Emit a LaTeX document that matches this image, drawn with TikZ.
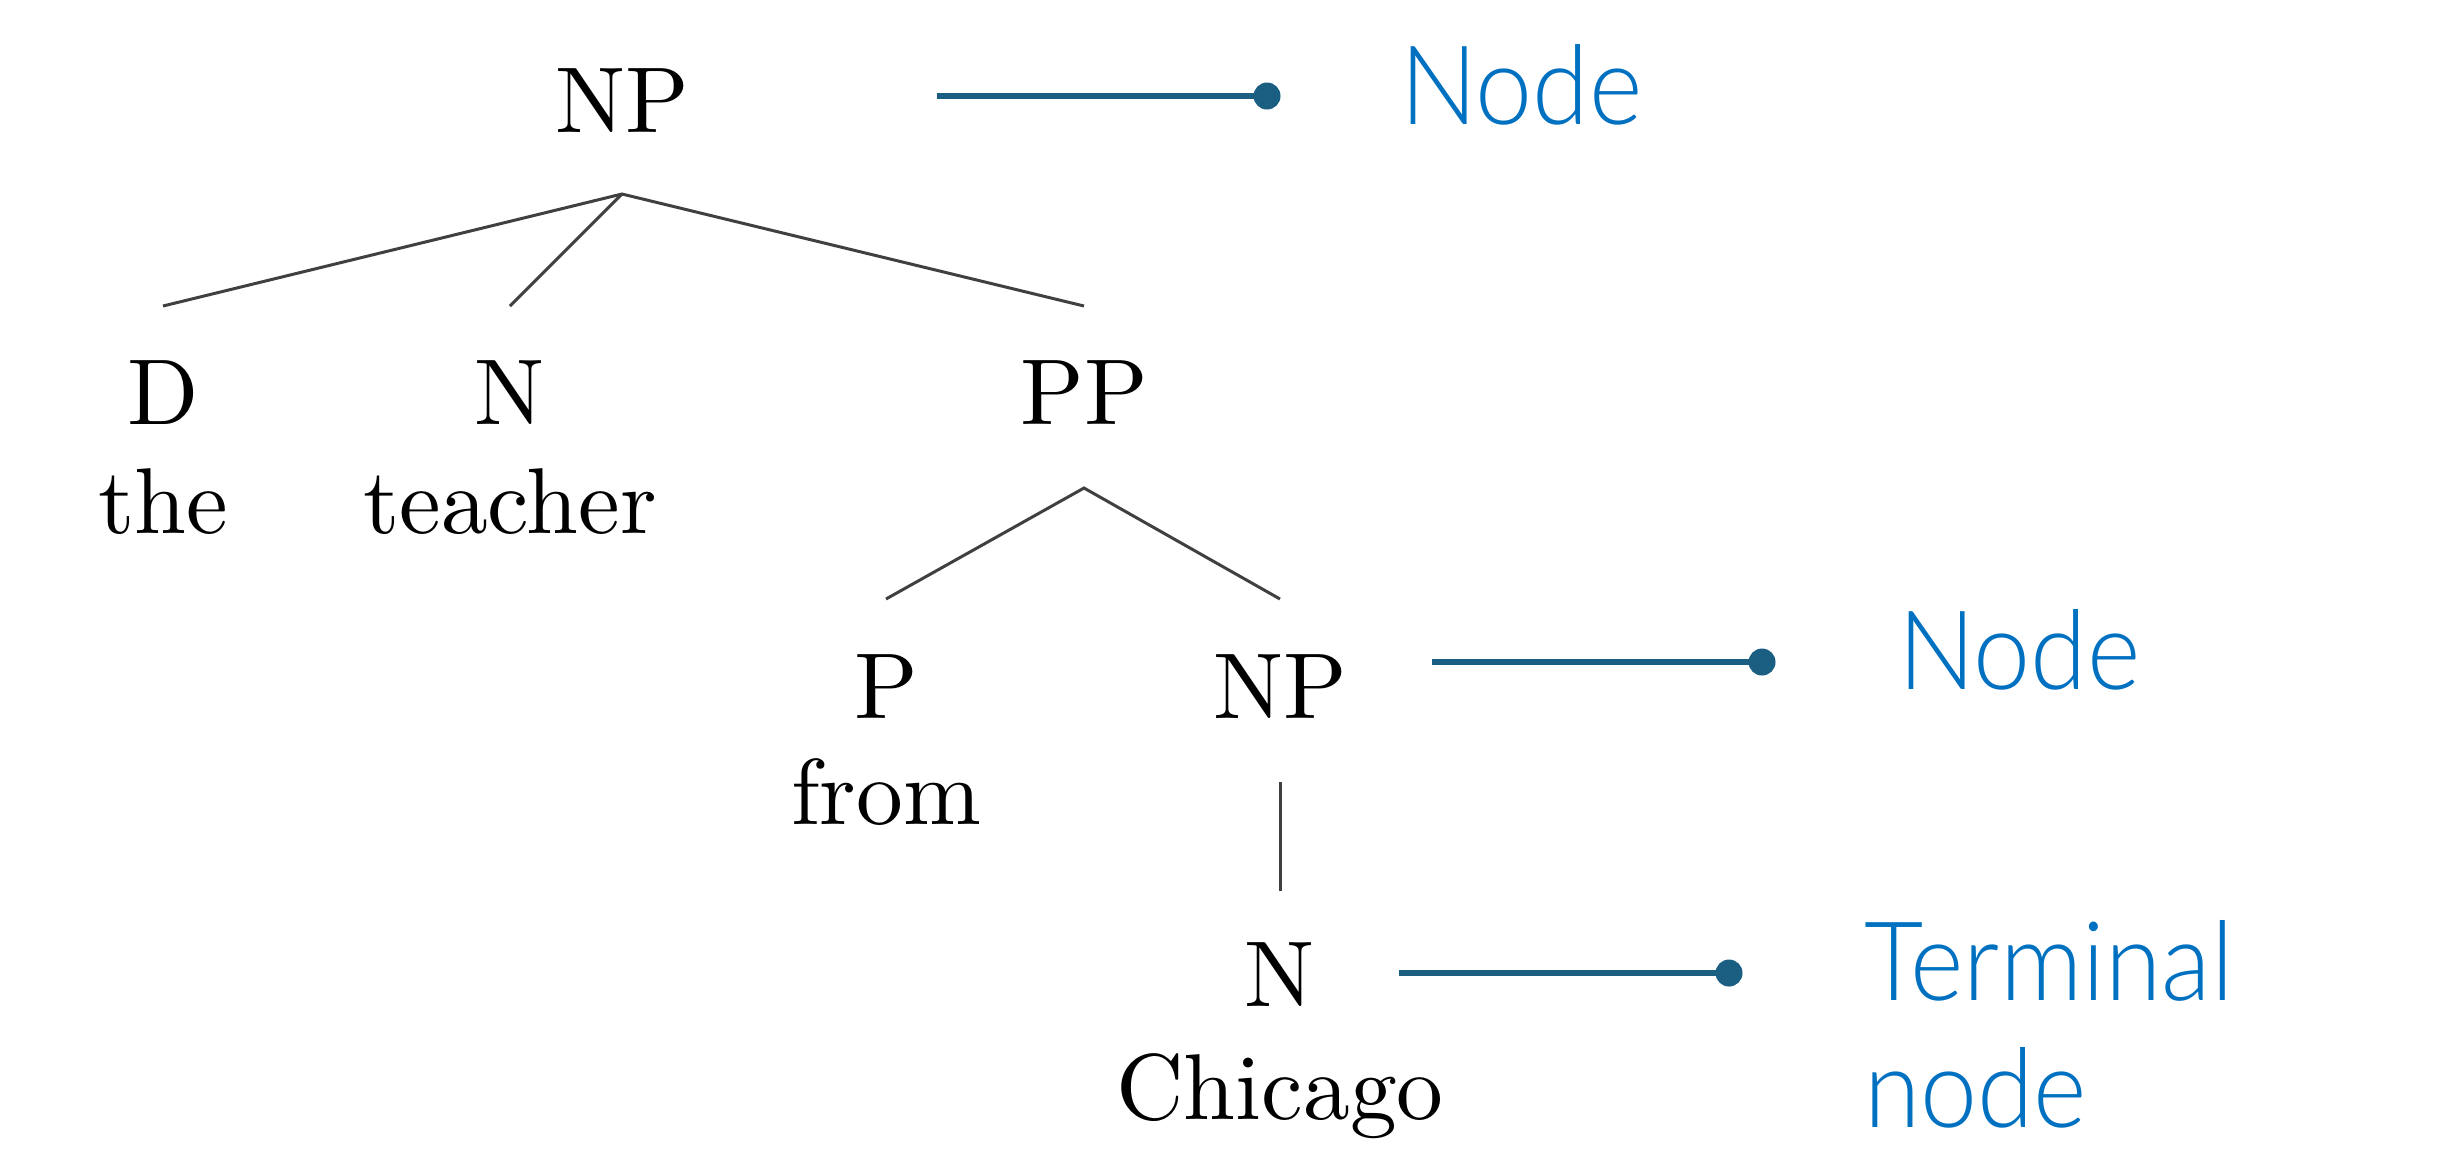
\documentclass[tikz,border=0pt]{standalone}
\usepackage{fontspec}
\IfFontExistsTF{Lato Light}
  {\newfontfamily\annotfont{Lato Light}[FakeStretch=0.93]}
  {\newfontfamily\annotfont{Lato}[FakeStretch=0.93]}
\newfontfamily\treefont{lmroman10-regular.otf}
\usetikzlibrary{calc}
\definecolor{annotblue}{HTML}{0070C0}
\definecolor{annotline}{HTML}{1A5E82}
\begin{document}
\begin{tikzpicture}[x=0.2pt,y=-0.2pt,
  lab/.style={anchor=base,inner sep=0pt,font=\treefont\fontsize{18.7}{22}\selectfont},
  wrd/.style={anchor=base,inner sep=0pt,font=\treefont\fontsize{18.7}{22}\selectfont},
  branch/.style={draw=black!75,line width=0.6pt},
  annot/.style={draw=annotline,line width=1.2pt},
  dot/.style={fill=annotline},
  ann/.style={anchor=base west,inner sep=0pt,text=annotblue,font=\annotfont\fontsize{22}{25.5}\selectfont,align=left}]
\useasboundingbox (0,0) rectangle (2438,1163);
% tree labels
\node[lab] (np1) at (622,132) {NP};
\node[lab] (d) at (163,424) {D};
\node[wrd] (dw) at (163,533) {the};
\node[lab] (n1) at (510,424) {N};
\node[wrd] (n1w) at (510,533) {teacher};
\node[lab] (pp) at (1084,424) {PP};
\node[lab] (p) at (886,718) {P};
\node[wrd] (pw) at (886,824) {from};
\node[lab] (np2) at (1280,718) {NP};
\node[lab] (n2) at (1280,1006) {N};
\node[wrd] (n2w) at (1280,1119) {Chicago};
% branches
\coordinate (np1b) at ($(np1.base)+(0,62)$);
\draw[branch] ($(d.base)+(0,-118)$) -- (np1b) -- ($(pp.base)+(0,-118)$);
\draw[branch] (np1b) -- ($(n1.base)+(0,-118)$);
\coordinate (ppb) at ($(pp.base)+(0,64)$);
\draw[branch] ($(p.base)+(0,-119)$) -- (ppb) -- ($(np2.base)+(0,-119)$);
\draw[branch] ($(np2.base)+(0,64)$) -- ($(n2.base)+(0,-115)$);
% annotations
\coordinate (a1s) at (937,96);
\coordinate (a1e) at (1267,96);
\coordinate (a2s) at (1432,662);
\coordinate (a2e) at (1762,662);
\coordinate (a3s) at (1399,973);
\coordinate (a3e) at (1729,973);
\draw[annot] (a1s) -- (a1e);
\draw[annot] (a2s) -- (a2e);
\draw[annot] (a3s) -- (a3e);
\fill[dot] (a1e) circle[radius=2.7pt];
\fill[dot] (a2e) circle[radius=2.7pt];
\fill[dot] (a3e) circle[radius=2.7pt];
\node[ann] (t1) at (1399,124) {Node};
\node[ann] (t2) at (1897,689) {Node};
\node[ann] (t3) at (1863,1000) {Terminal};
\node[ann] (t4) at (1863,1127) {node};
\end{tikzpicture}
\end{document}
